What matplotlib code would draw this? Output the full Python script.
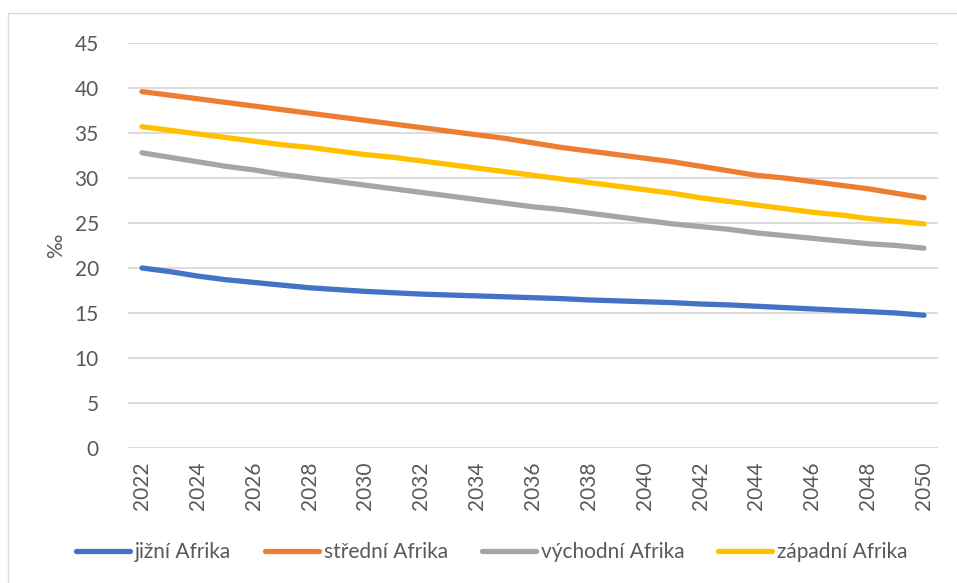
import matplotlib
matplotlib.use("Agg")
import matplotlib.pyplot as plt
from matplotlib.patches import Rectangle

years = list(range(2022, 2051))
jizni = [20.0, 19.6, 19.1, 18.7, 18.4, 18.1, 17.8, 17.6, 17.4, 17.25, 17.1, 17.0, 16.9, 16.8,
         16.7, 16.6, 16.45, 16.35, 16.25, 16.15, 16.0, 15.9, 15.75, 15.6, 15.45, 15.3, 15.15, 15.0, 14.75]
stredni = [39.6, 39.2, 38.8, 38.4, 38.0, 37.6, 37.2, 36.8, 36.4, 36.0, 35.6, 35.2, 34.8, 34.4,
           33.9, 33.4, 33.0, 32.6, 32.2, 31.8, 31.3, 30.8, 30.3, 30.0, 29.6, 29.2, 28.8, 28.3, 27.8]
vychodni = [32.8, 32.3, 31.8, 31.3, 30.9, 30.4, 30.0, 29.6, 29.2, 28.8, 28.4, 28.0, 27.6, 27.2,
            26.8, 26.5, 26.1, 25.7, 25.3, 24.9, 24.6, 24.3, 23.9, 23.6, 23.3, 23.0, 22.7, 22.5, 22.2]
zapadni = [35.7, 35.3, 34.9, 34.5, 34.1, 33.7, 33.4, 33.0, 32.6, 32.3, 31.9, 31.5, 31.1, 30.7,
           30.3, 29.9, 29.5, 29.1, 28.7, 28.3, 27.8, 27.4, 27.0, 26.6, 26.2, 25.9, 25.5, 25.2, 24.9]

series_names = ["jižní Afrika", "střední Afrika", "východní Afrika", "západní Afrika"]
colors = ["#4472C4", "#ED7D31", "#A5A5A5", "#FFC000"]
y_ticks = [0, 5, 10, 15, 20, 25, 30, 35, 40, 45]
x_ticks = list(range(2022, 2051, 2))

plt.rcParams['font.family'] = ['Lato', 'DejaVu Sans']
W, H = 957, 583
fig = plt.figure(figsize=(W / 100, H / 100), dpi=100)
fig.patches.append(Rectangle((8 / W, -0.1), 1.2, 1.1 - 13 / H, transform=fig.transFigure,
                             fill=False, edgecolor="#d9d9d9", linewidth=1))

ax = fig.add_axes([128 / W, 1 - 448 / H, (938 - 128) / W, (448 - 43) / H])
for vals, name, c in zip([jizni, stredni, vychodni, zapadni], series_names, colors):
    ax.plot(years, vals, color=c, linewidth=3.8, solid_capstyle="round", label=name)

ax.set_xlim(2021.5, 2050.5)
ax.set_ylim(0, 45)
ax.set_yticks(y_ticks)
ax.set_xticks(x_ticks)
ax.set_xticklabels([str(x) for x in x_ticks], rotation=90)
ax.grid(axis="y", color="#d9d9d9", linewidth=1.3)
ax.set_axisbelow(True)
for s in ax.spines.values():
    s.set_visible(False)
ax.tick_params(axis="both", length=0, labelsize=15, colors="#595959")
ax.tick_params(axis="y", pad=21)
ax.tick_params(axis="x", pad=10)
ax.set_ylabel("‰", fontsize=15, color="#595959", labelpad=6)

leg = fig.legend(loc="center", bbox_to_anchor=(0.514, 1 - 552 / H), ncol=4, frameon=False,
                 fontsize=15, handlelength=2.6, handletextpad=0.25, columnspacing=1.6,
                 labelcolor="#595959")
fig.savefig("out.png", dpi=100)
